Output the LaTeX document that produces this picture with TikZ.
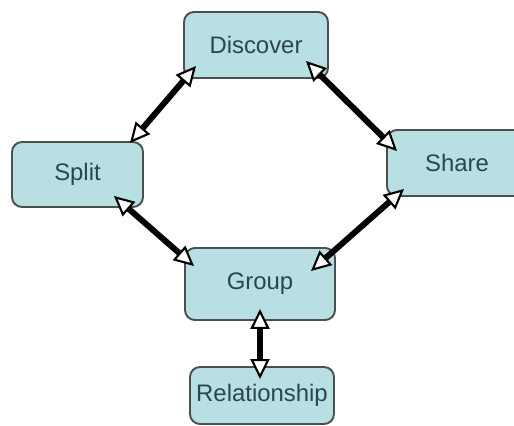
\documentclass[tikz,border=0pt]{standalone}
\usepackage{fontspec}
\setmainfont{Liberation Sans}
\usepackage{xcolor}
\usepackage{tikz}
\usetikzlibrary{arrows.meta}
\usetikzlibrary{calc}
\definecolor{boxfill}{HTML}{B8E0E3}
\definecolor{boxline}{HTML}{4A4F50}
\definecolor{boxtext}{HTML}{2B4650}
\tikzset{ stage_box/.style = {rectangle, rounded corners=0.2cm, draw=boxline, line width=1.1pt, fill=boxfill, text=boxtext, font=\fontsize{13.6}{15}\selectfont, inner sep=0pt} }
\tikzset{ link_arrow/.style = {line width=3.4pt, {Triangle[fill=white, line width=1.2pt, length=0.4cm, width=0.38cm]}-{Triangle[fill=white, line width=1.2pt, length=0.4cm, width=0.38cm]}} }

\begin{document}
\begin{tikzpicture}
\useasboundingbox (0,0) rectangle (10.28,8.52);
\node[stage_box, minimum width=2.88cm, minimum height=1.32cm] (discover) at (5.12,7.62) {Discover};
\node[stage_box, minimum width=2.62cm, minimum height=1.30cm] (split) at (1.55,5.03) {Split};
\node[stage_box, minimum width=2.80cm, minimum height=1.32cm] (share) at (9.14,5.26) {Share\hspace{0.2cm}};
\node[stage_box, minimum width=3.00cm, minimum height=1.44cm] (group) at (5.20,2.84) {Group};
\node[stage_box, minimum width=2.88cm, minimum height=1.14cm] (relation) at (5.24,0.61) {Relationship};
\draw[link_arrow] ([shift={(0.26,0.26)}]discover.south west) -- ([shift={(-0.28,-0.04)}]split.north east);
\draw[link_arrow] ([shift={(-0.46,0.36)}]discover.south east) -- ([shift={(0.22,-0.44)}]share.north west);
\draw[link_arrow] ([shift={(-0.6,0.24)}]split.south east) -- ([shift={(0.2,-0.38)}]group.north west);
\draw[link_arrow] ([shift={(0.36,0.16)}]share.south west) -- ([shift={(-0.5,-0.48)}]group.north east);
\draw[link_arrow] ([yshift=0.24cm]group.south) -- ([yshift=-0.26cm]group.south |- relation.north);
\end{tikzpicture}
\end{document}
